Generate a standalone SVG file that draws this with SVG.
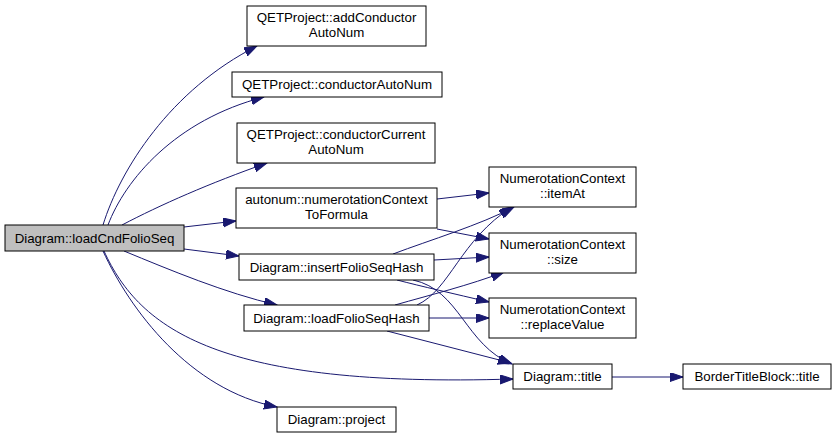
<svg xmlns="http://www.w3.org/2000/svg" width="836" height="438" viewBox="0 0 836 438">
<style>
.node rect{fill:#ffffff;stroke:#000000;stroke-width:1}
.node.root rect{fill:#bfbfbf}
.node text{font-family:"Liberation Sans",Arial,Helvetica,sans-serif;font-size:13.3px;fill:#000000;text-anchor:middle}
.edges path{fill:none;stroke:#191970;stroke-width:1;marker-end:url(#arr)}
</style>
<defs>
<marker id="arr" markerUnits="userSpaceOnUse" markerWidth="14" markerHeight="10" refX="13" refY="4.5" orient="auto">
<path d="M0,0 L13,4.5 L0,9 z" fill="#191970" stroke="#191970" stroke-width="1"/>
</marker>
</defs>
<rect width="836" height="438" fill="#ffffff"/>
<g class="edges">
<path d="M103,225 C120,170 170,90 257,46"/>
<path d="M108,225 C125,180 175,120 264,97"/>
<path d="M122,225 C160,205 210,183 267,163"/>
<path d="M184,227 L236,221"/>
<path d="M184,249 L239,256"/>
<path d="M124,251 C170,270 225,293 277,305"/>
<path d="M104,251 C140,330 220,388 513,379"/>
<path d="M103,251 C130,310 190,390 277,407"/>
<path d="M437,199 L489,193"/>
<path d="M437,229 L489,239"/>
<path d="M393,254 C430,240 480,225 514,207"/>
<path d="M434,260 L489,257"/>
<path d="M397,280 C420,286 455,294 489,302"/>
<path d="M413,280 C460,290 465,345 512,364"/>
<path d="M417,305 C450,290 460,240 512,207"/>
<path d="M395,305 C430,295 470,285 504,272"/>
<path d="M429,318 L489,318"/>
<path d="M387,331 L511,363"/>
<path d="M612,377 L683,377"/>
</g>
<g id="n_loadCndFolioSeq" class="node root"><rect x="5" y="225" width="179" height="26"/><text x="94.5" y="243">Diagram::loadCndFolioSeq</text></g>
<g id="n_addConductorAutoNum" class="node"><rect x="247" y="6" width="179" height="40"/><text x="336.5" y="22">QETProject::addConductor</text><text x="336.5" y="37">AutoNum</text></g>
<g id="n_conductorAutoNum" class="node"><rect x="232" y="72" width="210" height="25"/><text x="337" y="89">QETProject::conductorAutoNum</text></g>
<g id="n_conductorCurrentAutoNum" class="node"><rect x="237" y="123" width="198" height="40"/><text x="336" y="139">QETProject::conductorCurrent</text><text x="336" y="154">AutoNum</text></g>
<g id="n_numerotationContextToFormula" class="node"><rect x="236" y="188" width="201" height="40"/><text x="336.5" y="204">autonum::numerotationContext</text><text x="336.5" y="219">ToFormula</text></g>
<g id="n_insertFolioSeqHash" class="node"><rect x="239" y="254" width="195" height="26"/><text x="336.5" y="272">Diagram::insertFolioSeqHash</text></g>
<g id="n_loadFolioSeqHash" class="node"><rect x="244" y="305" width="185" height="26"/><text x="336.5" y="323">Diagram::loadFolioSeqHash</text></g>
<g id="n_project" class="node"><rect x="277" y="407" width="119" height="25"/><text x="336.5" y="424">Diagram::project</text></g>
<g id="n_itemAt" class="node"><rect x="489" y="167" width="147" height="40"/><text x="562.5" y="183">NumerotationContext</text><text x="562.5" y="198">::itemAt</text></g>
<g id="n_size" class="node"><rect x="489" y="233" width="147" height="40"/><text x="562.5" y="249">NumerotationContext</text><text x="562.5" y="264">::size</text></g>
<g id="n_replaceValue" class="node"><rect x="489" y="298" width="147" height="40"/><text x="562.5" y="314">NumerotationContext</text><text x="562.5" y="329">::replaceValue</text></g>
<g id="n_title" class="node"><rect x="513" y="364" width="99" height="25"/><text x="562.5" y="381">Diagram::title</text></g>
<g id="n_BorderTitleBlock_title" class="node"><rect x="683" y="364" width="148" height="25"/><text x="757" y="381">BorderTitleBlock::title</text></g>
</svg>
